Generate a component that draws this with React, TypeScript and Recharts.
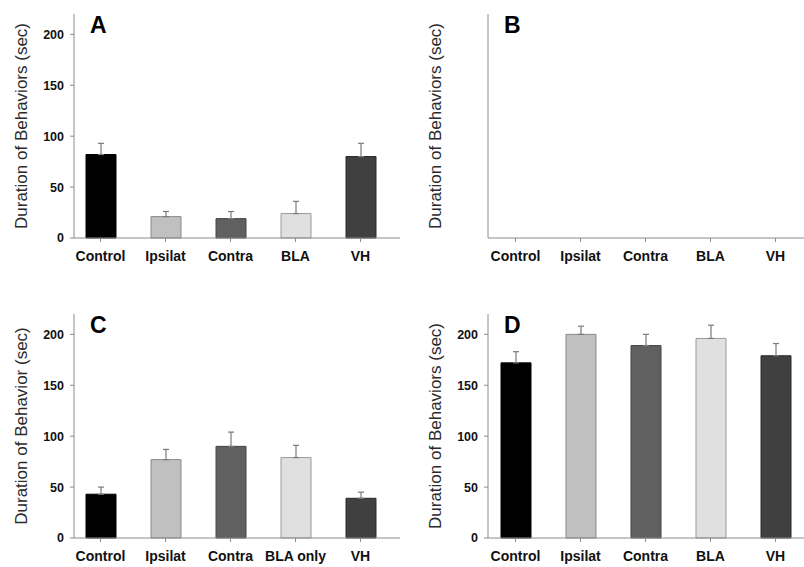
import React from 'react'
import { BarChart, Bar, XAxis, YAxis, Cell, ErrorBar } from 'recharts'

const groups = ['Control', 'Ipsilat', 'Contra', 'BLA', 'VH']
const groupsC = ['Control', 'Ipsilat', 'Contra', 'BLA only', 'VH']

const meansA = [82, 21, 19, 24, 80]
const errA = [11, 5, 7, 12, 13]

const meansC = [43, 77, 90, 79, 39]
const errC = [7, 10, 14, 12, 6]

const meansD = [172, 200, 189, 196, 179]
const errD = [11, 8, 11, 13, 12]

const yTicks = [0, 50, 100, 150, 200]

const FILLS = ['#000000', '#c0c0c0', '#606060', '#e0e0e0', '#404040']
const STROKES = ['#000000', '#8a8a8a', '#444444', '#9a9a9a', '#2a2a2a']

const FONT = '"Liberation Sans", Arial, sans-serif'

function build(names: string[], means: (number | null)[], errs: number[]) {
    return names.map((name, i) => ({
        name,
        value: means[i],
        err: [0, errs[i] ?? 0],
    }))
}

interface PanelProps {
    letter: string
    left: number
    top: number
    marginLeft: number
    padLeft: number
    padRight: number
    yLabel: string
    data: { name: string; value: number | null; err: number[] }[]
    showBars: boolean
}

function Panel({ letter, left, top, marginLeft, padLeft, padRight, yLabel, data, showBars }: PanelProps) {
    return (
        <div style={{ position: 'absolute', left, top, width: 402, height: 266 }}>
            <BarChart
                width={402}
                height={266}
                data={data}
                margin={{ top: 14, right: 402 - marginLeft - 60 - (left === 0 ? 326 : 316), left: marginLeft, bottom: 0 }}
            >
                <XAxis
                    dataKey="name"
                    interval={0}
                    height={28}
                    padding={{ left: padLeft, right: padRight }}
                    stroke="#8c8c8c"
                    tickSize={4}
                    tickMargin={9}
                    tick={{ fontSize: 14, fontWeight: 700, fill: '#111', fontFamily: FONT }}
                />
                <YAxis
                    width={60}
                    domain={[0, 220]}
                    ticks={yTicks}
                    stroke="#8c8c8c"
                    tickSize={4}
                    tickMargin={6}
                    tick={{ fontSize: 12.5, fontWeight: 700, fill: '#111', fontFamily: FONT }}
                    label={{
                        value: yLabel,
                        angle: -90,
                        position: 'insideLeft',
                        offset: 7,
                        style: { textAnchor: 'middle', fontSize: 17, fill: '#2a2a2a', fontFamily: FONT },
                    }}
                />
                {showBars && (
                    <Bar dataKey="value" barSize={30} isAnimationActive={false}>
                        {data.map((_, i) => (
                            <Cell key={`c-${i}`} fill={FILLS[i]} stroke={STROKES[i]} strokeWidth={1} />
                        ))}
                        <ErrorBar dataKey="err" width={3} stroke="#7a7a7a" strokeWidth={1.2} direction="y" />
                    </Bar>
                )}
            </BarChart>
            <div
                style={{
                    position: 'absolute',
                    left: marginLeft + 76,
                    top: 14,
                    fontFamily: FONT,
                    fontWeight: 700,
                    fontSize: 23,
                    lineHeight: '23px',
                    color: '#000',
                }}
            >
                {letter}
            </div>
        </div>
    )
}

export default function App() {
    const dataA = build(groups, meansA, errA)
    const dataB = build(groups, groups.map(() => null), [])
    const dataC = build(groupsC, meansC, errC)
    const dataD = build(groups, meansD, errD)

    return (
        <div style={{ position: 'absolute', left: 0, top: 0, width: 804, height: 567, overflow: 'hidden', background: '#fff' }}>
            <Panel letter="A" left={0} top={0} marginLeft={14} padLeft={-6} padRight={7}
                yLabel="Duration of Behaviors (sec)" data={dataA} showBars />
            <Panel letter="B" left={402} top={0} marginLeft={26} padLeft={-5} padRight={-4}
                yLabel="Duration of Behaviors (sec)" data={dataB} showBars={false} />
            <Panel letter="C" left={0} top={300} marginLeft={14} padLeft={-6} padRight={7}
                yLabel="Duration of Behavior (sec)" data={dataC} showBars />
            <Panel letter="D" left={402} top={300} marginLeft={26} padLeft={-5} padRight={-4}
                yLabel="Duration of Behaviors (sec)" data={dataD} showBars />
        </div>
    )
}
